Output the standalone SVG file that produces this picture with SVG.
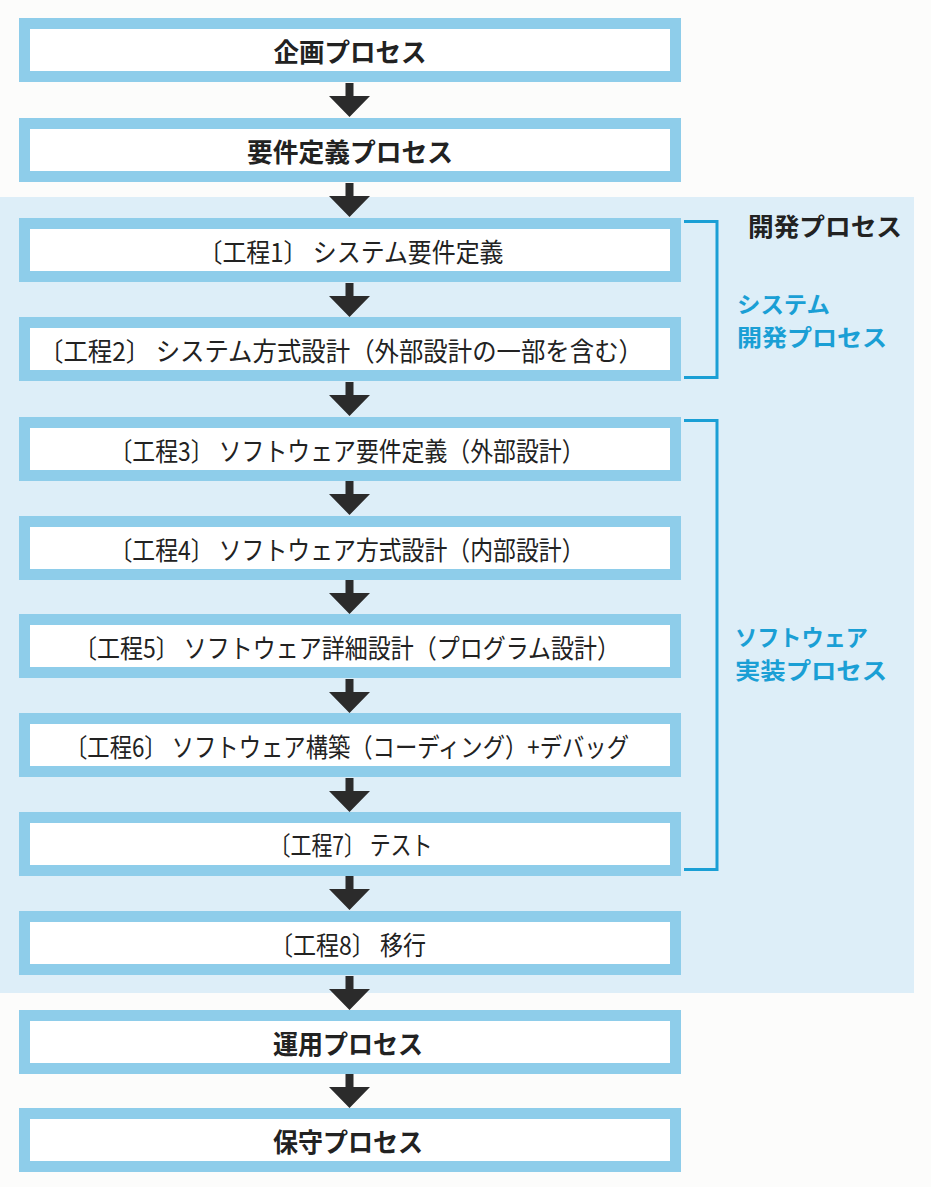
<svg xmlns="http://www.w3.org/2000/svg" width="931" height="1187" viewBox="0 0 931 1187">
<style>
.box{fill:#ffffff;stroke:#8ecdea;stroke-width:11}
.t{font-family:"Noto Sans CJK JP","Noto Sans",sans-serif;font-size:26px;fill:#222;text-anchor:middle}
.b{font-weight:bold}
.side{font-family:"Noto Sans CJK JP","Noto Sans",sans-serif;font-size:25px;font-weight:bold}
.s2{font-size:22.5px}
.blue{fill:#1a9fd5}
.br{fill:none;stroke:#1a9fd5;stroke-width:3}
.arrow{fill:#2b2b2b}
</style>
<defs>
<path id="arr" d="M-4,0 H4 V13 H20.5 L0,34 L-20.5,13 H-4 Z"/>
</defs>
<rect x="0" y="0" width="931" height="1187" fill="#fcfcfb"/>
<rect id="dev-area" x="0" y="197" width="914" height="796" fill="#ddeef8"/>

<g id="connectors" class="arrow">
<use href="#arr" x="349.5" y="83"/>
<use href="#arr" x="349.5" y="183"/>
<use href="#arr" x="349.5" y="283"/>
<use href="#arr" x="349.5" y="382"/>
<use href="#arr" x="349.5" y="481"/>
<use href="#arr" x="349.5" y="580"/>
<use href="#arr" x="349.5" y="679"/>
<use href="#arr" x="349.5" y="778"/>
<use href="#arr" x="349.5" y="876"/>
<use href="#arr" x="349.5" y="976"/>
<use href="#arr" x="349.5" y="1074"/>
</g>

<g id="n1"><rect class="box" x="24.5" y="23.5" width="651" height="53"/><text class="t b" x="350" y="62" textLength="153" lengthAdjust="spacingAndGlyphs">企画プロセス</text></g>
<g id="n2"><rect class="box" x="24.5" y="123.5" width="651" height="53"/><text class="t b" x="350" y="162" textLength="206" lengthAdjust="spacingAndGlyphs">要件定義プロセス</text></g>
<g id="n3"><rect class="box" x="24.5" y="223.5" width="651" height="53"/><text class="t" x="351" y="262" textLength="305" lengthAdjust="spacingAndGlyphs">〔工程1〕 システム要件定義</text></g>
<g id="n4"><rect class="box" x="24.5" y="322.5" width="651" height="53"/><text class="t" x="341" y="361" textLength="604" lengthAdjust="spacingAndGlyphs">〔工程2〕 システム方式設計（外部設計の一部を含む）</text></g>
<g id="n5"><rect class="box" x="24.5" y="422.5" width="651" height="53"/><text class="t" x="347" y="461" textLength="475" lengthAdjust="spacingAndGlyphs">〔工程3〕 ソフトウェア要件定義（外部設計）</text></g>
<g id="n6"><rect class="box" x="24.5" y="521.5" width="651" height="53"/><text class="t" x="347" y="560" textLength="475" lengthAdjust="spacingAndGlyphs">〔工程4〕 ソフトウェア方式設計（内部設計）</text></g>
<g id="n7"><rect class="box" x="24.5" y="619.5" width="651" height="53"/><text class="t" x="347" y="658" textLength="546" lengthAdjust="spacingAndGlyphs">〔工程5〕 ソフトウェア詳細設計（プログラム設計）</text></g>
<g id="n8"><rect class="box" x="24.5" y="718.5" width="651" height="53"/><text class="t" x="347" y="757" textLength="564" lengthAdjust="spacingAndGlyphs">〔工程6〕 ソフトウェア構築（コーディング）+デバッグ</text></g>
<g id="n9"><rect class="box" x="24.5" y="817.5" width="651" height="53"/><text class="t" x="351" y="855" textLength="163" lengthAdjust="spacingAndGlyphs">〔工程7〕 テスト</text></g>
<g id="n10"><rect class="box" x="24.5" y="916.5" width="651" height="53"/><text class="t" x="348" y="955" textLength="156" lengthAdjust="spacingAndGlyphs">〔工程8〕 移行</text></g>
<g id="n11"><rect class="box" x="24.5" y="1015.5" width="651" height="53"/><text class="t b" x="348" y="1054" textLength="150" lengthAdjust="spacingAndGlyphs">運用プロセス</text></g>
<g id="n12"><rect class="box" x="24.5" y="1113.5" width="651" height="53"/><text class="t b" x="348" y="1152" textLength="150" lengthAdjust="spacingAndGlyphs">保守プロセス</text></g>

<g id="label-dev">
<text class="side" x="748" y="236" fill="#222" textLength="154" lengthAdjust="spacingAndGlyphs">開発プロセス</text>
</g>
<g id="bracket-system">
<path class="br" d="M684,221.5 H717 V377.5 H684"/>
<text class="side s2 blue" x="737" y="313" textLength="93" lengthAdjust="spacingAndGlyphs">システム</text>
<text class="side s2 blue" x="737" y="346" textLength="150" lengthAdjust="spacingAndGlyphs">開発プロセス</text>
</g>
<g id="bracket-software">
<path class="br" d="M684,420.5 H717 V869.5 H684"/>
<text class="side s2 blue" x="735" y="646" textLength="133" lengthAdjust="spacingAndGlyphs">ソフトウェア</text>
<text class="side s2 blue" x="735" y="679" textLength="152" lengthAdjust="spacingAndGlyphs">実装プロセス</text>
</g>
</svg>
